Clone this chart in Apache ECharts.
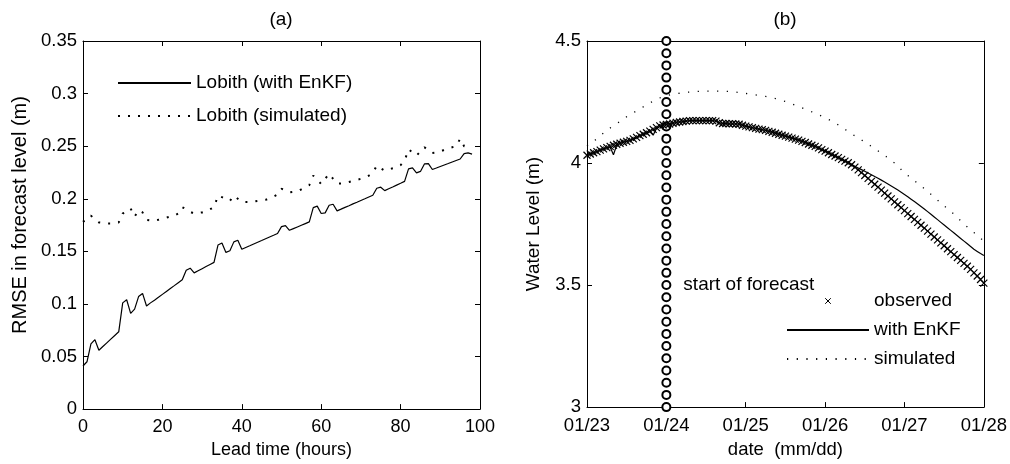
<!DOCTYPE html>
<html>
<head>
<meta charset="utf-8">
<script src="https://cdn.jsdelivr.net/npm/echarts@6/dist/echarts.min.js"></script>
<style>
html,body{margin:0;padding:0;background:#fff;}
#chart{width:1010px;height:464px;}
</style>
</head>
<body>
<div id="chart"></div>
<script>
// ---------- Panel (a): RMSE vs lead time ----------
const leadHours = [0,1,2,3,4,5,6,7,8,9,10,11,12,13,14,15,16,17,18,19,20,21,22,23,24,25,26,27,28,29,30,31,32,33,34,35,36,37,38,39,40,41,42,43,44,45,46,47,48,49,50,51,52,53,54,55,56,57,58,59,60,61,62,63,64,65,66,67,68,69,70,71,72,73,74,75,76,77,78,79,80,81,82,83,84,85,86,87,88,89,90,91,92,93,94,95,96,97,98];
const rmseEnKF = [0.041,0.045,0.062,0.066,0.056,0.0595,0.063,0.0665,0.070,0.0735,
  0.101,0.104,0.091,0.095,0.107,0.110,0.098,0.1010,0.1036,0.1063,
  0.1091,0.1119,0.1147,0.1174,0.1202,0.123,0.132,0.134,0.1295,0.1315,
  0.1335,0.1355,0.1375,0.1395,0.156,0.158,0.149,0.1505,0.159,0.1605,
  0.152,0.1537,0.1553,0.157,0.1587,0.1603,0.162,0.1637,0.1653,0.167,
  0.1735,0.1745,0.170,0.1716,0.1732,0.1748,0.1764,0.178,0.1916,0.193,
  0.186,0.1866,0.1938,0.1948,0.1885,0.1901,0.1918,0.1934,0.1951,0.1967,
  0.1984,0.2000,0.2017,0.2033,0.210,0.211,0.2077,0.2095,0.2112,0.213,
  0.2147,0.2165,0.2284,0.2293,0.2246,0.226,0.2331,0.2334,0.2278,0.2292,
  0.2307,0.2321,0.2335,0.235,0.2364,0.2378,0.2430,0.2436,0.2425];
const rmseSimulated = [0.178,0.181,0.184,0.180,0.1775,0.177,0.1765,0.1765,0.177,0.1775,
  0.186,0.1875,0.1907,0.183,0.189,0.187,0.180,0.1795,0.179,0.180,
  0.181,0.182,0.183,0.184,0.186,0.192,0.190,0.1875,0.186,0.1865,
  0.187,0.188,0.190,0.192,0.203,0.2015,0.200,0.198,0.203,0.200,
  0.197,0.197,0.197,0.1975,0.198,0.1985,0.199,0.2005,0.202,0.204,
  0.2095,0.208,0.206,0.2065,0.207,0.209,0.211,0.213,0.222,0.218,
  0.214,0.219,0.2237,0.219,0.2143,0.2145,0.215,0.216,0.217,0.218,
  0.219,0.2205,0.222,0.2245,0.2315,0.229,0.2268,0.2275,0.229,0.230,
  0.232,0.236,0.247,0.244,0.241,0.245,0.249,0.246,0.2435,0.244,
  0.245,0.2465,0.248,0.249,0.250,0.257,0.250,0.249];

// ---------- Panel (b): water level ----------
const dateLabels = ['01/23','01/24','01/25','01/26','01/27','01/28'];
// hourly values, 0 h = 01/23 00:00 ... 120 h = 01/28 00:00
const observedLevels = [4.032,4.037,4.042,4.047,4.053,4.058,4.063,4.068,4.073,4.077,
  4.081,4.085,4.089,4.093,4.099,4.105,4.112,4.118,4.124,4.131,
  4.138,4.145,4.152,4.156,4.158,4.160,4.163,4.166,4.168,4.170,
  4.172,4.174,4.174,4.174,4.174,4.174,4.174,4.174,4.174,4.172,
  4.165,4.162,4.162,4.161,4.161,4.160,4.159,4.155,4.151,4.148,
  4.145,4.142,4.139,4.137,4.134,4.130,4.126,4.122,4.118,4.114,
  4.110,4.106,4.102,4.098,4.094,4.089,4.084,4.078,4.073,4.068,
  4.062,4.055,4.049,4.042,4.035,4.029,4.022,4.015,4.008,4.001,
  3.993,3.983,3.972,3.961,3.949,3.937,3.925,3.913,3.901,3.889,
  3.877,3.865,3.853,3.841,3.829,3.817,3.805,3.793,3.781,3.769,
  3.757,3.745,3.733,3.721,3.709,3.697,3.685,3.673,3.661,3.649,
  3.637,3.625,3.613,3.601,3.589,3.577,3.564,3.550,3.537,3.523,
  3.508];
const enkfLevels = [4.032,4.037,4.042,4.047,4.053,4.058,4.063,4.066,4.034,4.075,
  4.081,4.085,4.089,4.093,4.099,4.105,4.112,4.118,4.124,4.129,
  4.114,4.142,4.150,4.156,4.158,4.160,4.163,4.166,4.168,4.170,
  4.172,4.174,4.174,4.174,4.174,4.174,4.174,4.174,4.174,4.172,
  4.165,4.162,4.162,4.161,4.161,4.160,4.159,4.155,4.151,4.148,
  4.145,4.142,4.139,4.137,4.134,4.130,4.126,4.122,4.118,4.114,
  4.110,4.106,4.102,4.098,4.094,4.089,4.084,4.078,4.073,4.068,
  4.062,4.055,4.049,4.042,4.035,4.029,4.022,4.015,4.008,4.001,
  3.994,3.987,3.980,3.973,3.966,3.959,3.952,3.945,3.938,3.930,
  3.922,3.914,3.906,3.898,3.889,3.880,3.871,3.862,3.852,3.842,
  3.832,3.822,3.812,3.801,3.790,3.779,3.768,3.757,3.746,3.735,
  3.724,3.713,3.702,3.691,3.680,3.669,3.658,3.647,3.638,3.629,
  3.621];
const simHours = [0,3,6,9,12,15,18,21,24,27,30,33,36,39,42,45,48,51,54,57,60,63,66,69,72,75,78,81,84,87,90,93,96,99,102,105,108,111,114,117,120];
const simLevels = [4.070,4.099,4.135,4.161,4.190,4.214,4.238,4.262,4.276,4.284,
  4.290,4.293,4.295,4.295,4.294,4.291,4.285,4.279,4.273,4.264,
  4.252,4.237,4.221,4.204,4.186,4.165,4.138,4.111,4.086,4.059,
  4.031,4.000,3.960,3.928,3.895,3.860,3.824,3.790,3.750,3.715,
  3.680];
const forecastStartHour = 24;
const forecastMarkLevels = [3.0,3.05,3.1,3.15,3.2,3.25,3.3,3.35,3.4,3.45,3.5,3.55,3.6,3.65,3.7,3.75,3.8,3.85,3.9,3.95,4.0,4.05,4.1,4.15,4.2,4.25,4.3,4.35,4.4,4.45,4.5];
const forecastLabelLevel = 3.5;

// ---------- chart ----------
const FF = '"Liberation Sans", Arial, Helvetica, sans-serif';
const BLACK = '#000';
const TRANSP = 'rgba(0,0,0,0)';

function baseAxis(extra) {
  return Object.assign({
    axisLine: {show: true, onZero: false, lineStyle: {color: BLACK, width: 1}},
    axisTick: {show: true, inside: true, length: 5, lineStyle: {color: BLACK, width: 1}},
    splitLine: {show: false},
    axisLabel: {color: BLACK, fontSize: 18, fontFamily: FF},
    nameTextStyle: {color: BLACK, fontSize: 19, fontFamily: FF}
  }, extra);
}

const chart = echarts.init(document.getElementById('chart'), null, {renderer: 'canvas'});

const option = {
  animation: false,
  backgroundColor: '#fff',
  textStyle: {fontFamily: FF, color: BLACK},
  title: [
    {text: '(a)', left: 281, top: 10, textAlign: 'center', padding: 0,
     textStyle: {fontSize: 19, fontWeight: 'normal', color: BLACK, fontFamily: FF}},
    {text: '(b)', left: 785, top: 10, textAlign: 'center', padding: 0,
     textStyle: {fontSize: 19, fontWeight: 'normal', color: BLACK, fontFamily: FF}}
  ],
  grid: [
    {left: 83, top: 41, width: 397, height: 371, containLabel: false},
    {left: 587, top: 41, width: 397, height: 371, containLabel: false}
  ],
  legend: [
    {
      orient: 'vertical', left: 117, top: 73, padding: 0,
      itemWidth: 73, itemHeight: 7, itemGap: 13,
      textStyle: {fontSize: 19, lineHeight: 20, color: BLACK, fontFamily: FF},
      selectedMode: false,
      data: [
        {name: 'Lobith (with EnKF)', itemStyle: {color: TRANSP, borderWidth: 0}},
        {name: 'Lobith (simulated)', itemStyle: {color: TRANSP, borderWidth: 0}}
      ]
    },
    {
      orient: 'vertical', left: 786, top: 291, padding: 0,
      itemWidth: 82, itemHeight: 7, itemGap: 9,
      textStyle: {fontSize: 19, lineHeight: 20, color: BLACK, fontFamily: FF},
      selectedMode: false,
      data: [
        {name: 'observed', itemStyle: {color: TRANSP, borderColor: BLACK, borderWidth: 1}},
        {name: 'with EnKF', itemStyle: {color: TRANSP, borderWidth: 0}},
        {name: 'simulated', itemStyle: {color: TRANSP, borderWidth: 0}}
      ]
    }
  ],
  xAxis: [
    baseAxis({type: 'value', gridIndex: 0, position: 'bottom', min: 0, max: 100, interval: 20,
      name: 'Lead time (hours)', nameLocation: 'middle', nameGap: 30,
      nameTextStyle: {color: BLACK, fontSize: 18, fontFamily: FF},
      axisLabel: {color: BLACK, fontSize: 18, fontFamily: FF, margin: 9}}),
    baseAxis({type: 'value', gridIndex: 0, position: 'top', min: 0, max: 100, interval: 20,
      axisLabel: {show: false}}),
    baseAxis({type: 'value', gridIndex: 1, position: 'bottom', min: 0, max: 120, interval: 24,
      name: 'date  (mm/dd)', nameLocation: 'middle', nameGap: 30,
      nameTextStyle: {color: BLACK, fontSize: 18.5, fontFamily: FF},
      axisLabel: {color: BLACK, fontSize: 18.5, fontFamily: FF, margin: 9,
        formatter: v => dateLabels[Math.round(v / 24)]}}),
    baseAxis({type: 'value', gridIndex: 1, position: 'top', min: 0, max: 120, interval: 24,
      axisLabel: {show: false}})
  ],
  yAxis: [
    baseAxis({type: 'value', gridIndex: 0, position: 'left', min: 0, max: 0.35, interval: 0.05,
      name: 'RMSE in forecast level (m)', nameLocation: 'middle', nameGap: 53,
      nameTextStyle: {color: BLACK, fontSize: 20, fontFamily: FF, padding: [0, 0, 0, 20]},
      axisLabel: {color: BLACK, fontSize: 18.5, fontFamily: FF, margin: 6}}),
    baseAxis({type: 'value', gridIndex: 0, position: 'right', min: 0, max: 0.35, interval: 0.05,
      axisLabel: {show: false}}),
    baseAxis({type: 'value', gridIndex: 1, position: 'left', min: 3, max: 4.5, interval: 0.5,
      name: 'Water Level (m)', nameLocation: 'middle', nameGap: 44,
      axisLabel: {color: BLACK, fontSize: 18.5, fontFamily: FF, margin: 6}}),
    baseAxis({type: 'value', gridIndex: 1, position: 'right', min: 3, max: 4.5, interval: 0.5,
      axisLabel: {show: false}})
  ],
  series: [
    {
      name: 'Lobith (with EnKF)', type: 'line', xAxisIndex: 0, yAxisIndex: 0,
      data: leadHours.map((h, i) => [h, rmseEnKF[i]]),
      symbol: 'circle', showSymbol: false,
      itemStyle: {color: TRANSP, borderWidth: 0},
      lineStyle: {color: BLACK, width: 1.2, type: 'solid'},
      emphasis: {disabled: true}
    },
    {
      name: 'Lobith (simulated)', type: 'line', xAxisIndex: 0, yAxisIndex: 0,
      data: rmseSimulated.map((v, i) => [leadHours[i], v]),
      symbol: 'circle', showSymbol: false,
      itemStyle: {color: TRANSP, borderWidth: 0},
      lineStyle: {color: BLACK, width: 2, type: [2, 8]},
      emphasis: {disabled: true}
    },
    {
      name: 'start of forecast', type: 'line', xAxisIndex: 2, yAxisIndex: 2,
      data: forecastMarkLevels.map(v => {
        const item = {value: [forecastStartHour, v]};
        if (v === forecastLabelLevel) {
          item.label = {show: true, position: 'right', distance: 12, formatter: 'start of forecast',
            color: BLACK, fontSize: 19, fontFamily: FF};
        }
        return item;
      }),
      symbol: 'emptyCircle', symbolSize: 8, showAllSymbol: true, clip: false,
      itemStyle: {color: BLACK, borderColor: BLACK, borderWidth: 1},
      lineStyle: {width: 0, color: TRANSP},
      emphasis: {disabled: true}, z: 3
    },
    {
      name: 'observed', type: 'line', xAxisIndex: 2, yAxisIndex: 2,
      data: observedLevels.map((v, i) => [i, v]),
      symbol: 'path://M0,0L10,10M10,0L0,10', symbolSize: 7, showAllSymbol: true, clip: false,
      itemStyle: {color: TRANSP, borderColor: BLACK, borderWidth: 1.2},
      lineStyle: {width: 0, color: TRANSP},
      emphasis: {disabled: true}, z: 4
    },
    {
      name: 'with EnKF', type: 'line', xAxisIndex: 2, yAxisIndex: 2,
      data: enkfLevels.map((v, i) => [i, v]),
      symbol: 'circle', showSymbol: false,
      itemStyle: {color: TRANSP, borderWidth: 0},
      lineStyle: {color: BLACK, width: 1.2, type: 'solid'},
      emphasis: {disabled: true}, z: 5
    },
    {
      name: 'simulated', type: 'line', xAxisIndex: 2, yAxisIndex: 2,
      data: simHours.map((h, i) => [h, simLevels[i]]),
      symbol: 'circle', showSymbol: false,
      itemStyle: {color: TRANSP, borderWidth: 0},
      lineStyle: {color: BLACK, width: 1.3, type: [1.2, 8.5]},
      emphasis: {disabled: true}
    }
  ]
};
chart.setOption(option);
</script>
</body>
</html>
